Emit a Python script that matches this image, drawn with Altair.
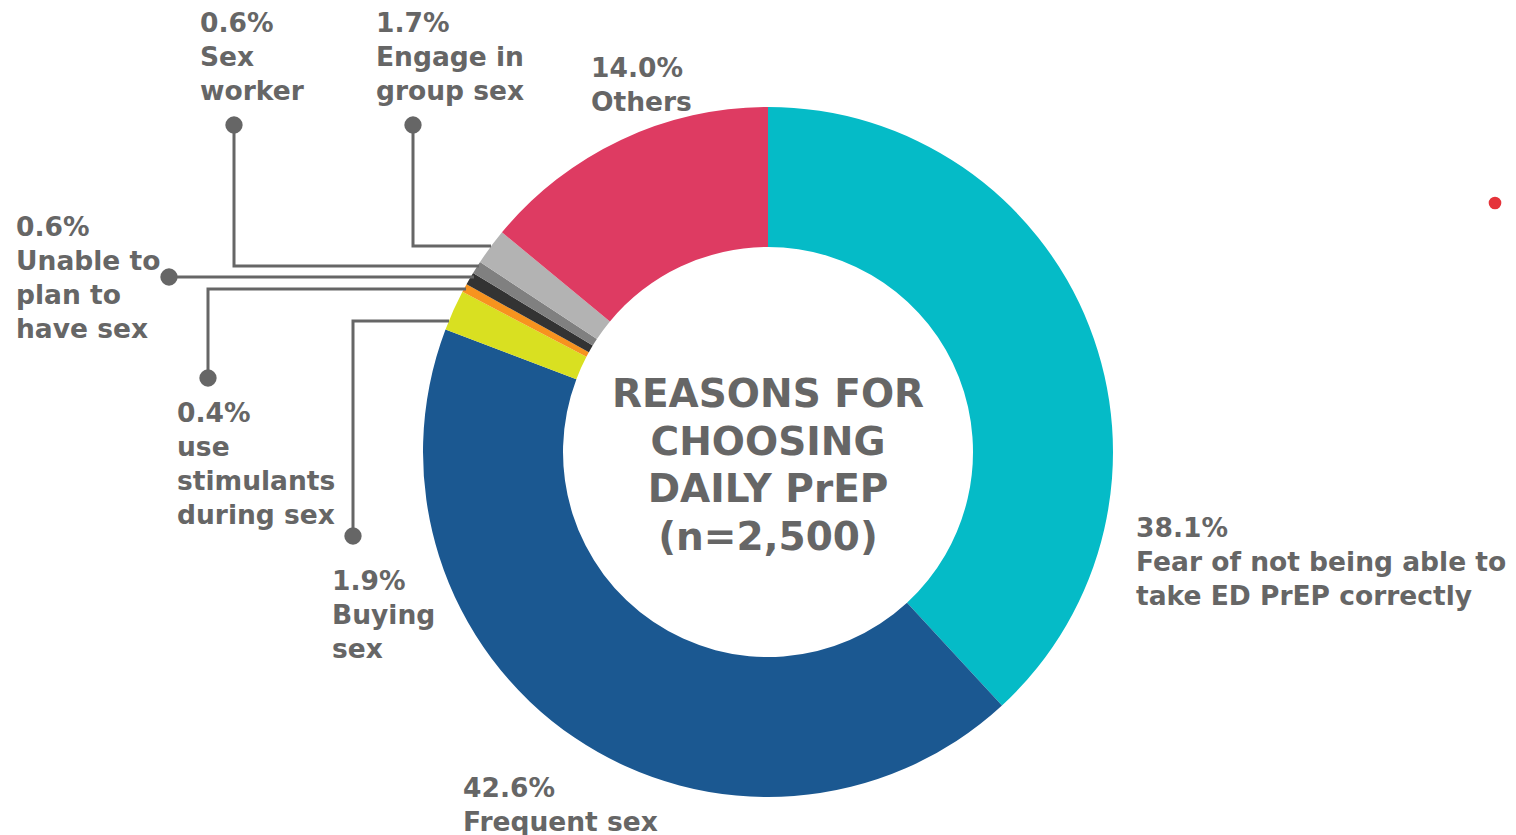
import altair as alt
import pandas as pd

# ---- data ----
reasons = ["Fear of not being able to take ED PrEP correctly", "Frequent sex", "Buying sex",
           "use stimulants during sex", "Unable to plan to have sex", "Sex worker",
           "Engage in group sex", "Others"]
shares = [38.1, 42.6, 1.9, 0.4, 0.6, 0.6, 1.7, 14.0]
slice_colors = ["#05BBC7", "#1B5891", "#D9E021", "#F7931E", "#333333", "#808080", "#B3B3B3", "#DE3B62"]

label_texts = ["38.1%\nFear of not being able to\ntake ED PrEP correctly",
               "42.6%\nFrequent sex",
               "1.9%\nBuying\nsex",
               "0.4%\nuse\nstimulants\nduring sex",
               "0.6%\nUnable to\nplan to\nhave sex",
               "0.6%\nSex\nworker",
               "1.7%\nEngage in\ngroup sex",
               "14.0%\nOthers"]
center_title = "REASONS FOR\nCHOOSING\nDAILY PrEP\n(n=2,500)"

# ---- layout (pixel positions) ----
W, H = 1516, 835
CX, CY = 768, 452
R_OUT, R_IN = 345, 205
label_x = [1136, 463, 332, 177, 16, 200, 376, 591]
label_y = [537, 797, 590, 422, 236, 32, 32, 77]
# leader lines: (group, seq, x, y); first point is the dot
leader_group = ["buy", "buy", "buy", "stim", "stim", "stim", "unable", "unable",
                "worker", "worker", "worker", "group", "group", "group"]
leader_seq = [0, 1, 2, 0, 1, 2, 0, 1, 0, 1, 2, 0, 1, 2]
leader_x = [353, 353, 449, 208, 208, 466, 169, 474, 234, 234, 479, 413, 413, 491]
leader_y = [536, 321, 321, 378, 289, 289, 277, 277, 125, 266, 266, 125, 246, 246]

xs = alt.Scale(domain=[0, W], range=[0, W], nice=False, zero=False)
ys = alt.Scale(domain=[0, H], range=[0, H], nice=False, zero=False)

GRAY = "#666666"
FONT = "DejaVu Sans"

slices = pd.DataFrame({"reason": reasons, "share": shares, "k": list(range(len(reasons)))})
arc = alt.Chart(slices).mark_arc(innerRadius=R_IN, outerRadius=R_OUT, stroke=None).encode(
    theta=alt.Theta("share:Q", stack=True),
    color=alt.Color("reason:N", scale=alt.Scale(domain=reasons, range=slice_colors), legend=None),
    order=alt.Order("k:Q"),
    x=alt.XDatum(CX, type="quantitative", scale=xs, axis=None),
    y=alt.YDatum(CY, type="quantitative", scale=ys, axis=None),
)

labels = pd.DataFrame({"t": label_texts, "x": label_x, "y": label_y})
label_layer = alt.Chart(labels).mark_text(
    align="left", baseline="alphabetic", lineBreak="\n", lineHeight=34,
    font=FONT, fontSize=26.5, fontWeight="bold", color=GRAY
).encode(
    x=alt.X("x:Q", scale=xs, axis=None),
    y=alt.Y("y:Q", scale=ys, axis=None),
    text="t:N",
)

center = alt.Chart(pd.DataFrame({"t": [center_title]})).mark_text(
    align="center", baseline="alphabetic", lineBreak="\n", lineHeight=47.5,
    font=FONT, fontSize=39, fontWeight="bold", color=GRAY
).encode(
    x=alt.XDatum(CX, type="quantitative", scale=xs, axis=None),
    y=alt.YDatum(407, type="quantitative", scale=ys, axis=None),
    text="t:N",
)

leaders = pd.DataFrame({"g": leader_group, "s": leader_seq, "x": leader_x, "y": leader_y})
lines = alt.Chart(leaders).mark_line(color=GRAY, strokeWidth=3).encode(
    x=alt.X("x:Q", scale=xs, axis=None),
    y=alt.Y("y:Q", scale=ys, axis=None),
    detail="g:N",
    order="s:Q",
)
dots = alt.Chart(leaders).transform_filter("datum.s == 0").mark_point(
    filled=True, color=GRAY, size=300, opacity=1, shape="circle"
).encode(
    x=alt.X("x:Q", scale=xs, axis=None),
    y=alt.Y("y:Q", scale=ys, axis=None),
)

red = alt.Chart(pd.DataFrame({"x": [1495], "y": [203]})).mark_point(
    filled=True, color="#E5333A", size=160, opacity=1, shape="circle"
).encode(
    x=alt.X("x:Q", scale=xs, axis=None),
    y=alt.Y("y:Q", scale=ys, axis=None),
)

chart = alt.layer(arc, lines, dots, red, label_layer, center).properties(
    width=W, height=H, padding=0, autosize=alt.AutoSizeParams(type="none"),
    background="white"
).configure_view(stroke=None)

chart.save("out.html", embed_options={"renderer": "svg", "actions": False})
